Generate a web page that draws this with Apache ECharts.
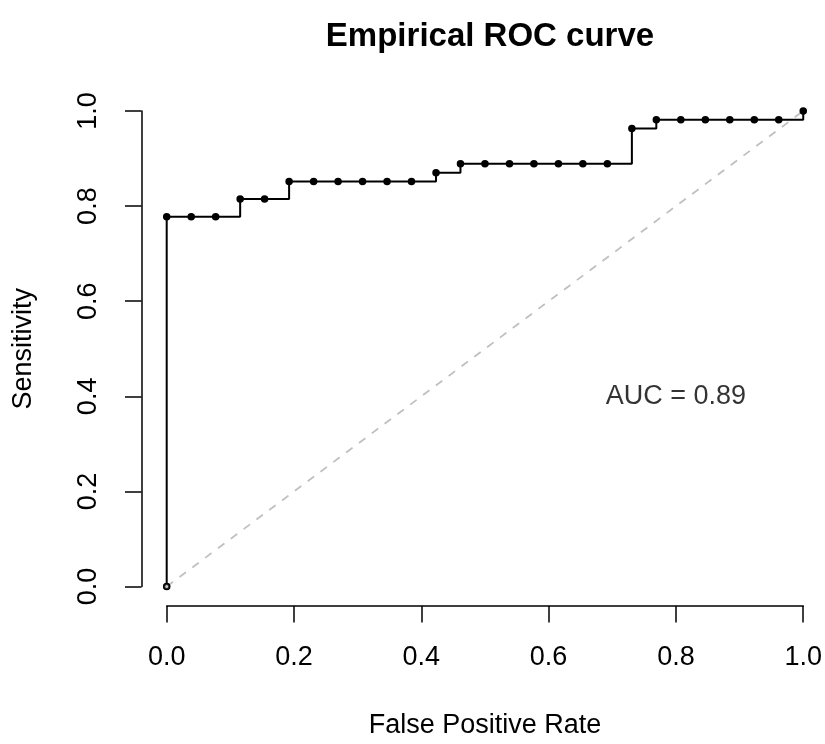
<!DOCTYPE html>
<html>
<head>
<meta charset="utf-8">
<title>Empirical ROC curve</title>
<script src="https://cdn.jsdelivr.net/npm/echarts@6/dist/echarts.min.js"></script>
<style>
  html, body { margin: 0; padding: 0; background: #fff; }
  #rocChart { width: 825px; height: 744px; }
</style>
</head>
<body>
<div id="rocChart"></div>
<script>
// false positive rate of each ROC point
var fpr = [0, 0, 0.0385, 0.0769, 0.1154, 0.1538, 0.1923, 0.2308, 0.2692, 0.3077,
           0.3462, 0.3846, 0.4231, 0.4615, 0.5, 0.5385, 0.5769, 0.6154, 0.6538,
           0.6923, 0.7308, 0.7692, 0.8077, 0.8462, 0.8846, 0.9231, 0.9615, 1];
// sensitivity of each ROC point
var sensitivity = [0, 0.7778, 0.7778, 0.7778, 0.8148, 0.8148, 0.8519, 0.8519, 0.8519,
                   0.8519, 0.8519, 0.8519, 0.8704, 0.8889, 0.8889, 0.8889, 0.8889,
                   0.8889, 0.8889, 0.8889, 0.963, 0.9815, 0.9815, 0.9815, 0.9815,
                   0.9815, 0.9815, 1];
// chance diagonal
var chanceX = [0, 1];
var chanceY = [0, 1];
// tick labels
var xTicks = ['0.0', '0.2', '0.4', '0.6', '0.8', '1.0'];
var yTicks = ['0.0', '0.2', '0.4', '0.6', '0.8', '1.0'];
var aucText = 'AUC = 0.89';
var aucPos = [0.8, 0.4];

var FONT = '"Liberation Sans", Arial, Helvetica, sans-serif';

var rocChart = echarts.init(document.getElementById('rocChart'));

function tickLabel(list) {
    return function (v) {
        var i = Math.round(v / 0.2);
        return list[i] !== undefined ? list[i] : '';
    };
}

// build curve points
var curveData = [];
for (var i = 0; i < fpr.length; i++) {
    curveData.push([fpr[i], sensitivity[i]]);
}
var chanceData = [];
for (var j = 0; j < chanceX.length; j++) {
    chanceData.push([chanceX[j], chanceY[j]]);
}

var option = {
    animation: false,
    backgroundColor: '#fff',
    textStyle: { fontFamily: FONT },
    title: {
        text: 'Empirical ROC curve',
        left: 485,
        top: 15,
        textAlign: 'center',
        textStyle: {
            fontFamily: FONT,
            fontSize: 33,
            lineHeight: 33,
            fontWeight: 'bold',
            color: '#000'
        }
    },
    grid: {
        left: 166.7,
        right: 20.7,
        top: 111,
        bottom: 150.7,
        containLabel: false
    },
    xAxis: {
        type: 'value',
        min: 0,
        max: 1,
        interval: 0.2,
        offset: 19.4,
        name: 'False Positive Rate',
        nameLocation: 'middle',
        nameGap: 106,
        nameTextStyle: { fontFamily: FONT, fontSize: 27, lineHeight: 27, color: '#000' },
        axisLine: { show: true, onZero: false, lineStyle: { color: '#000', width: 1.5 } },
        axisTick: { show: true, inside: false, length: 16.5, lineStyle: { color: '#000', width: 1.5 } },
        axisLabel: {
            margin: 38,
            fontFamily: FONT,
            fontSize: 27,
            lineHeight: 27,
            color: '#000',
            formatter: tickLabel(xTicks)
        },
        splitLine: { show: false }
    },
    yAxis: {
        type: 'value',
        min: 0,
        max: 1,
        interval: 0.2,
        offset: 25.2,
        name: 'Sensitivity',
        nameLocation: 'middle',
        nameGap: 104,
        nameTextStyle: { fontFamily: FONT, fontSize: 27, lineHeight: 27, color: '#000' },
        axisLine: { show: true, onZero: false, lineStyle: { color: '#000', width: 1.5 } },
        axisTick: { show: true, inside: false, length: 16.5, lineStyle: { color: '#000', width: 1.5 } },
        axisLabel: {
            margin: 39,
            rotate: 90,
            fontFamily: FONT,
            fontSize: 27,
            lineHeight: 27,
            color: '#000',
            formatter: tickLabel(yTicks)
        },
        splitLine: { show: false }
    },
    series: [
        {
            name: 'chance',
            type: 'line',
            data: chanceData,
            symbol: 'none',
            silent: true,
            z: 1,
            lineStyle: { color: '#c0c0c0', width: 1.8, type: [8, 8] }
        },
        {
            name: 'ROC',
            type: 'line',
            step: 'end',
            data: curveData,
            symbol: 'circle',
            symbolSize: 7.5,
            showAllSymbol: true,
            clip: false,
            z: 3,
            itemStyle: { color: '#000' },
            lineStyle: { color: '#000', width: 2 }
        },
        {
            // start point (0,0) is drawn as a small ring
            name: 'start',
            type: 'scatter',
            data: [curveData[0]],
            symbol: 'emptyCircle',
            symbolSize: 5,
            clip: false,
            silent: true,
            z: 4,
            itemStyle: { color: '#000', borderColor: '#000', borderWidth: 1.8 }
        },
        {
            name: 'auc',
            type: 'scatter',
            data: [aucPos],
            symbolSize: 0,
            silent: true,
            label: {
                show: true,
                position: 'inside',
                formatter: aucText,
                fontFamily: FONT,
                fontSize: 27,
                lineHeight: 27,
                color: '#000',
                textBorderWidth: 0
            }
        }
    ]
};
rocChart.setOption(option);
</script>
</body>
</html>
